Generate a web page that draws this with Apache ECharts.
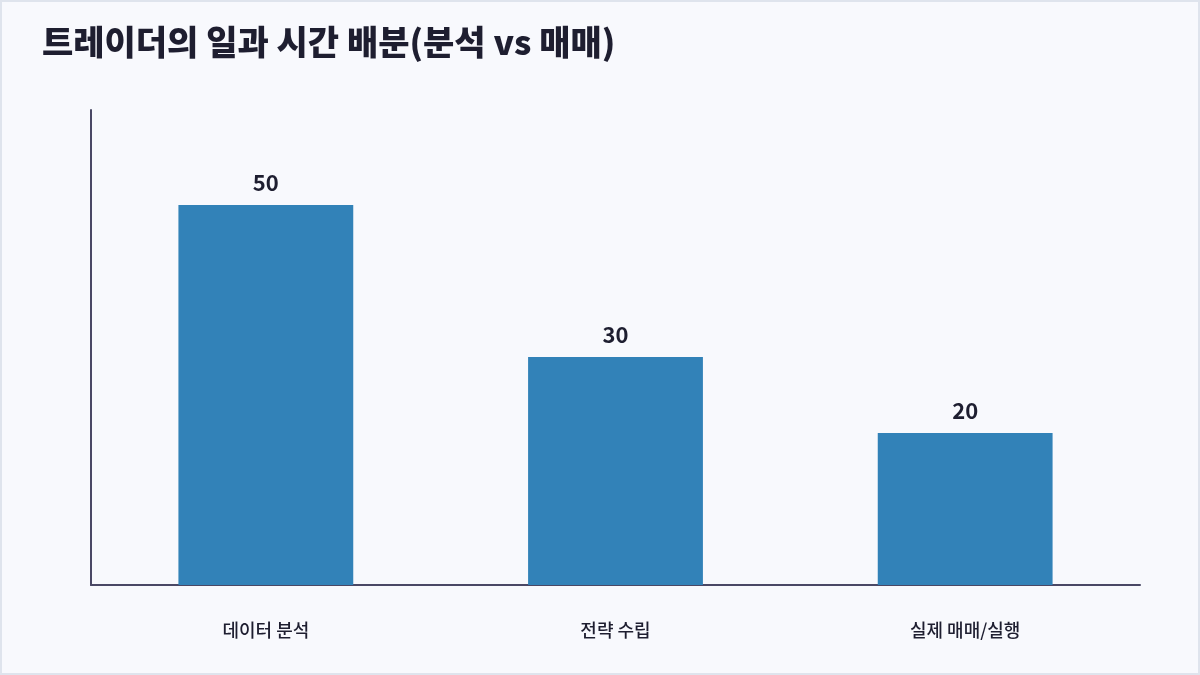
<!DOCTYPE html>
<html>
<head>
<meta charset="utf-8">
<script src="https://cdn.jsdelivr.net/npm/echarts@6/dist/echarts.min.js"></script>
<style>
  html, body { margin: 0; padding: 0; background: #f8f9fd; }
  #chart { width: 1200px; height: 675px; box-sizing: border-box; border: 2px solid #dfe4ed; }
</style>
</head>
<body>
<div id="chart"></div>
<script>
const categories = ["데이터 분석", "전략 수립", "실제 매매/실행"];
const hours = [50, 30, 20];

const font = "'Noto Sans CJK KR', 'Noto Sans', sans-serif";
const chart = echarts.init(document.getElementById("chart"));

chart.setOption({
  backgroundColor: "#f8f9fd",
  textStyle: { fontFamily: font },
  title: {
    text: "트레이더의 일과 시간 배분(분석 vs 매매)",
    left: 35,
    top: 18,
    textStyle: { fontFamily: font, fontSize: 34, fontWeight: 900, color: "#1e1e30" }
  },
  grid: { left: 89, right: 58, top: 108, bottom: 88 },
  xAxis: {
    type: "category",
    data: categories,
    axisLine: { lineStyle: { color: "#4a4865", width: 2 } },
    axisTick: { show: false },
    axisLabel: { margin: 36, fontSize: 18, fontWeight: 500, color: "#1e1e30", fontFamily: font }
  },
  yAxis: {
    type: "value",
    min: 0,
    max: 62.5,
    axisLine: { show: true, lineStyle: { color: "#4a4865", width: 2 } },
    axisTick: { show: false },
    axisLabel: { show: false },
    splitLine: { show: false }
  },
  series: [{
    type: "bar",
    data: hours,
    barWidth: "50%",
    itemStyle: { color: "#3282b8" },
    label: {
      show: true,
      position: "top",
      distance: 11,
      fontSize: 22,
      fontWeight: "bold",
      color: "#1e1e30",
      fontFamily: font
    }
  }]
});
</script>
</body>
</html>
